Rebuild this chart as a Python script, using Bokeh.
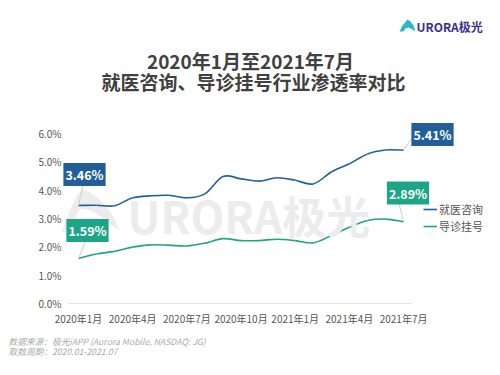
from bokeh.plotting import figure
from bokeh.models import Label, Legend, LegendItem, FixedTicker, ColumnDataSource, Title
from bokeh.embed import file_html
from bokeh.resources import INLINE

months = ["2020年1月", "2020年2月", "2020年3月", "2020年4月", "2020年5月", "2020年6月",
          "2020年7月", "2020年8月", "2020年9月", "2020年10月", "2020年11月", "2020年12月",
          "2021年1月", "2021年2月", "2021年3月", "2021年4月", "2021年5月", "2021年6月", "2021年7月"]
consult = [3.46, 3.47, 3.45, 3.73, 3.80, 3.82, 3.73, 3.87, 4.48, 4.40, 4.32, 4.44,
           4.35, 4.22, 4.64, 4.93, 5.28, 5.42, 5.41]
guide = [1.59, 1.75, 1.84, 1.99, 2.07, 2.06, 2.03, 2.13, 2.29, 2.22, 2.22, 2.27,
         2.22, 2.14, 2.40, 2.69, 2.93, 2.98, 2.89]
series_names = ["就医咨询", "导诊挂号"]
y_ticks = [0, 1, 2, 3, 4, 5, 6]
x_tick_idx = [0, 3, 6, 9, 12, 15, 18]
footer_lines = ["数据来源：极光iAPP (Aurora Mobile, NASDAQ: JG)", "取数周期：2020.01-2021.07"]

BLUE = "#225f99"
GREEN = "#1ea587"
CJK = "Noto Sans CJK SC"

# layout (page pixels; Bokeh's page template has no body margin)
PX_M, PX_P = 18.06, 28.33   # px per month, px per 1%
X0, Y0 = 78, 303            # page position of month 0 / 0%
FR_L, FR_R, FR_T = 62, 496, 6

W, H = 500, 375
p = figure(width=W, height=H, output_backend="svg", toolbar_location=None,
           x_range=((FR_L - X0) / PX_M, (FR_R - X0) / PX_M),
           y_range=(0, (Y0 - FR_T) / PX_P),
           min_border_left=FR_L, min_border_right=W - FR_R,
           min_border_top=FR_T, min_border_bottom=H - Y0)
p.outline_line_color = None
p.background_fill_color = "white"
p.border_fill_color = "white"

def dx(px):
    return (px - X0) / PX_M

def dy(py):
    return (Y0 - py) / PX_P

def label(px, py, text, **kw):
    p.add_layout(Label(x=dx(px), y=dy(py), text=text, text_font=CJK, **kw))

# watermark
wm_a = [(82, 189), (90, 192), (99, 199), (108, 209), (114, 218), (118, 229), (110, 224),
        (100, 216), (90, 210), (80, 208), (76, 214), (73, 232), (61, 232), (66, 218),
        (72, 204), (77, 194)]
p.patch([dx(a) for a, b in wm_a], [dy(b) for a, b in wm_a], fill_color="#ececec", line_color=None)
label(127, 214, "URORA极光", text_font_style="bold", text_font_size="44px", text_color="#ececec",
      text_baseline="middle", text_align="left")

# smooth lines via cubic bezier (Catmull-Rom)
def bez(vals):
    n = len(vals)
    xs = list(range(n))
    d = dict(x0=[], y0=[], x1=[], y1=[], cx0=[], cy0=[], cx1=[], cy1=[])
    for i in range(n - 1):
        i0 = max(i - 1, 0)
        i3 = min(i + 2, n - 1)
        d["x0"].append(xs[i]); d["y0"].append(vals[i])
        d["x1"].append(xs[i + 1]); d["y1"].append(vals[i + 1])
        d["cx0"].append(xs[i] + (xs[i + 1] - xs[i0]) / 6)
        d["cy0"].append(vals[i] + (vals[i + 1] - vals[i0]) / 6)
        d["cx1"].append(xs[i + 1] - (xs[i3] - xs[i]) / 6)
        d["cy1"].append(vals[i + 1] - (vals[i3] - vals[i]) / 6)
    return ColumnDataSource(d)

r1 = p.bezier(x0="x0", y0="y0", x1="x1", y1="y1", cx0="cx0", cy0="cy0", cx1="cx1", cy1="cy1",
              source=bez(consult), line_color=BLUE, line_width=1.6)
r2 = p.bezier(x0="x0", y0="y0", x1="x1", y1="y1", cx0="cx0", cy0="cy0", cx1="cx1", cy1="cy1",
              source=bez(guide), line_color=GREEN, line_width=1.6)

# leader lines and value boxes
last = len(months) - 1
leaders = [(0, consult[0], 83, 182), (0, guide[0], 86, 238),
           (last, consult[last], 412, 137), (last, guide[last], 398, 201)]
for xi, yv, px, py in leaders:
    p.segment(x0=[xi], y0=[yv], x1=[dx(px)], y1=[dy(py)], line_color="#cfcfcf", line_width=1)

boxes = [(consult[0], BLUE, 84, 174), (guide[0], GREEN, 87, 230),
         (consult[last], BLUE, 432, 134), (guide[last], GREEN, 407.5, 192.5)]
for v, c, px, py in boxes:
    label(px, py, f"{v:.2f}%", text_font_style="bold", text_font_size="12.5px", text_color="white",
          text_align="center", text_baseline="middle", background_fill_color=c, padding=2)

# axes
p.yaxis.ticker = FixedTicker(ticks=y_ticks)
p.yaxis.major_label_overrides = {t: f"{t:.1f}%" for t in y_ticks}
p.xaxis.ticker = FixedTicker(ticks=x_tick_idx)
p.xaxis.major_label_overrides = {i: months[i] for i in x_tick_idx}
for ax in (p.xaxis, p.yaxis):
    ax.axis_line_color = None
    ax.major_tick_line_color = None
    ax.minor_tick_line_color = None
    ax.major_tick_out = 0
    ax.major_tick_in = 0
    ax.minor_tick_out = 0
    ax.minor_tick_in = 0
    ax.major_label_text_font = CJK
    ax.major_label_text_font_size = "10px"
    ax.major_label_text_color = "#555555"
p.xaxis.axis_line_color = "#e3e3e3"
p.xaxis.bounds = (dx(68), dx(412))
p.yaxis.major_label_standoff = 1
p.xaxis.major_label_standoff = 7
p.grid.grid_line_color = None

# legend
legend = Legend(items=[LegendItem(label=series_names[0], renderers=[r1]),
                       LegendItem(label=series_names[1], renderers=[r2])],
                location=(423 - FR_L, Y0 - 234), padding=0, margin=0, spacing=1,
                glyph_width=14, glyph_height=14, label_height=14, label_standoff=2,
                label_text_font=CJK, label_text_font_size="11px", label_text_color="#555555",
                background_fill_alpha=0, border_line_color=None)
p.add_layout(legend, "center")

# titles
label(250, 60, "2020年1月至2021年7月", text_font_style="bold", text_font_size="19px",
      text_color="#404040", text_align="center", text_baseline="middle")
label(253, 81, "就医咨询、导诊挂号行业渗透率对比", text_font_style="bold", text_font_size="19px",
      text_color="#404040", text_align="center", text_baseline="middle")

# logo
logo = [(407, 19), (410, 21), (413, 25), (415, 31), (412, 29), (408, 27), (405, 28), (403, 31),
        (399, 31), (402, 25)]
p.patch([dx(a) for a, b in logo], [dy(b) for a, b in logo], fill_color="#2fb8c4", line_color=None)
label(416, 25.5, "URORA极光", text_font_style="bold", text_font_size="12px", text_color="#3b2d8f",
      text_align="left", text_baseline="middle")

# footer (two lines in one title)
p.add_layout(Title(text="\n".join(footer_lines), align="left", offset=-(FR_L - 8), standoff=9,
                   text_font=CJK, text_font_style="italic", text_font_size="8.7px",
                   text_line_height=0.8, text_color="#aaaaaa"), "below")

open("out.html", "w").write(file_html(p, INLINE))
